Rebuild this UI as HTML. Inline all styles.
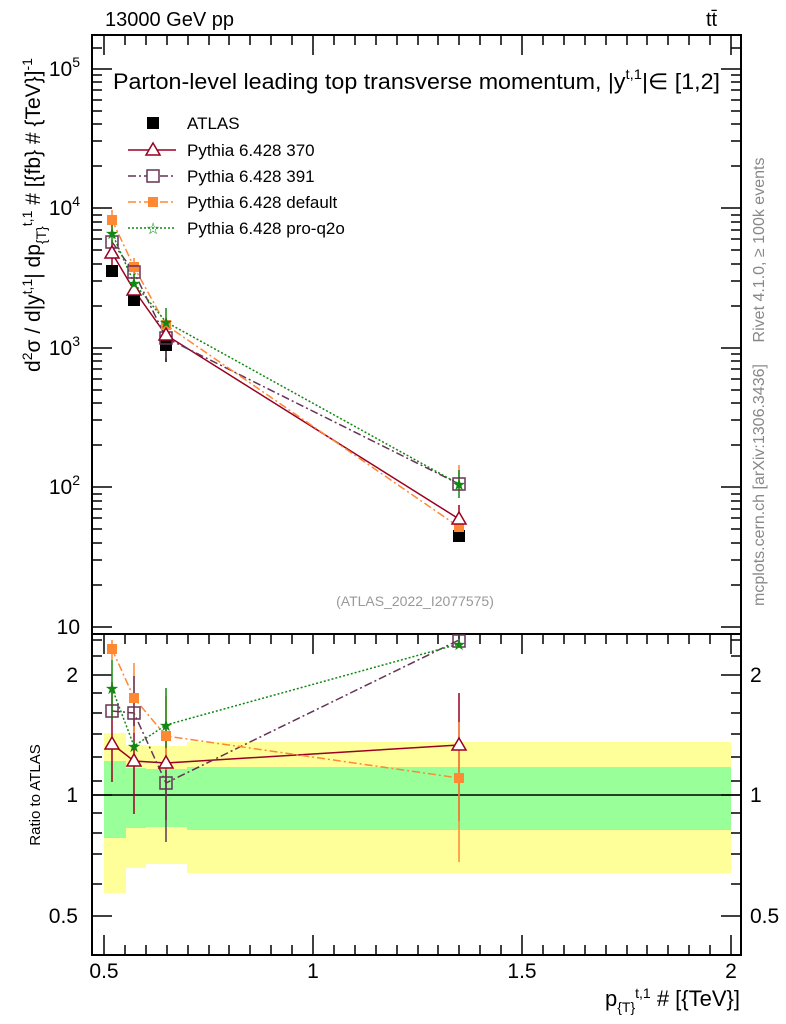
<!DOCTYPE html>
<html><head><meta charset="utf-8"><style>body{margin:0;background:#fff}svg{display:block;font-family:"Liberation Sans",sans-serif}</style></head><body>
<svg width="786" height="1024" viewBox="0 0 786 1024" xmlns="http://www.w3.org/2000/svg">
<text x="105" y="26" font-size="20">13000 GeV pp</text>
<text x="706" y="26" font-size="20">tt̄</text>
<text transform="translate(764,250) rotate(-90)" font-size="16" fill="#888" text-anchor="middle">Rivet 4.1.0, ≥ 100k events</text>
<text transform="translate(764,485) rotate(-90)" font-size="16" fill="#888" text-anchor="middle">mcplots.cern.ch [arXiv:1306.3436]</text>
<text transform="translate(40,215) rotate(-90)" font-size="21" text-anchor="middle">d<tspan font-size="14" dy="-8">2</tspan><tspan dy="8">σ / d|y</tspan><tspan font-size="14" dy="-8">t,1</tspan><tspan dy="8">| dp</tspan><tspan font-size="14" dy="6">{T}</tspan><tspan font-size="14" dy="-14">t,1</tspan><tspan dy="8"> # [{fb} # {TeV}]</tspan><tspan font-size="14" dy="-8">-1</tspan></text>
<text transform="translate(40,795) rotate(-90)" font-size="15" text-anchor="middle">Ratio to ATLAS</text>
<rect x="104" y="733" width="22" height="160" fill="#ffff99"/>
<rect x="126" y="745" width="20" height="123" fill="#ffff99"/>
<rect x="146" y="746" width="41" height="118" fill="#ffff99"/>
<rect x="187" y="742" width="544" height="131" fill="#ffff99"/>
<rect x="104" y="761" width="22" height="77" fill="#99ff99"/>
<rect x="126" y="768" width="20" height="60" fill="#99ff99"/>
<rect x="146" y="769" width="41" height="58" fill="#99ff99"/>
<rect x="187" y="767" width="544" height="63" fill="#99ff99"/>
<line x1="92" y1="795" x2="741" y2="795" stroke="#000" stroke-width="1.5"/>
<rect x="92" y="35" width="649" height="599" fill="none" stroke="#000" stroke-width="2"/>
<rect x="92" y="634" width="649" height="321" fill="none" stroke="#000" stroke-width="2"/>
<g stroke="#000" stroke-width="1.5">
<path d="M104 955v-20M313 955v-20M522 955v-20M731 955v-20M104 634v20M313 634v20M522 634v20M731 634v20M104 35v20M313 35v20M522 35v20M731 35v20
M125 955v-10M146 955v-10M167 955v-10M188 955v-10M209 955v-10M229 955v-10M250 955v-10M271 955v-10M292 955v-10M334 955v-10M355 955v-10M376 955v-10M397 955v-10M418 955v-10M438 955v-10M459 955v-10M480 955v-10M501 955v-10M543 955v-10M564 955v-10M585 955v-10M606 955v-10M627 955v-10M647 955v-10M668 955v-10M689 955v-10M710 955v-10
M125 634v10M146 634v10M167 634v10M188 634v10M209 634v10M229 634v10M250 634v10M271 634v10M292 634v10M334 634v10M355 634v10M376 634v10M397 634v10M418 634v10M438 634v10M459 634v10M480 634v10M501 634v10M543 634v10M564 634v10M585 634v10M606 634v10M627 634v10M647 634v10M668 634v10M689 634v10M710 634v10
M125 35v10M146 35v10M167 35v10M188 35v10M209 35v10M229 35v10M250 35v10M271 35v10M292 35v10M334 35v10M355 35v10M376 35v10M397 35v10M418 35v10M438 35v10M459 35v10M480 35v10M501 35v10M543 35v10M564 35v10M585 35v10M606 35v10M627 35v10M647 35v10M668 35v10M689 35v10M710 35v10"/>
<path d="M92 69h20M92 208h20M92 348h20M92 487h20M92 627h20M741 69h-20M741 208h-20M741 348h-20M741 487h-20M741 627h-20"/>
<path d="M92 585h10M92 560h10M92 543h10M92 529h10M92 518h10M92 509h10M92 501h10M92 494h10
M92 445h10M92 420h10M92 403h10M92 390h10M92 379h10M92 369h10M92 361h10M92 354h10
M92 306h10M92 281h10M92 264h10M92 250h10M92 239h10M92 230h10M92 222h10M92 215h10
M92 166h10M92 141h10M92 124h10M92 111h10M92 100h10M92 90h10M92 82h10M92 75h10
M92 48h10M741 48h-10
M741 585h-10M741 560h-10M741 543h-10M741 529h-10M741 518h-10M741 509h-10M741 501h-10M741 494h-10
M741 445h-10M741 420h-10M741 403h-10M741 390h-10M741 379h-10M741 369h-10M741 361h-10M741 354h-10
M741 306h-10M741 281h-10M741 264h-10M741 250h-10M741 239h-10M741 230h-10M741 222h-10M741 215h-10
M741 166h-10M741 141h-10M741 124h-10M741 111h-10M741 100h-10M741 90h-10M741 82h-10M741 75h-10"/>
<path d="M92 675h20M92 795h20M92 916h20M741 675h-20M741 795h-20M741 916h-20
M92 640h10M92 656h10M92 693h10M92 713h10M92 734h10M92 757h10M92 781h10M92 813h10M92 833h10M92 854h10M92 884h10
M741 640h-10M741 656h-10M741 693h-10M741 713h-10M741 734h-10M741 757h-10M741 781h-10M741 813h-10M741 833h-10M741 854h-10M741 884h-10"/>
</g>
<g font-size="21" text-anchor="middle">
<text x="104" y="978">0.5</text><text x="313" y="978">1</text><text x="522" y="978">1.5</text><text x="731" y="978">2</text>
</g>
<g font-size="21" text-anchor="end">
<text x="80" y="76">10<tspan font-size="14" dy="-9">5</tspan></text>
<text x="80" y="215">10<tspan font-size="14" dy="-9">4</tspan></text>
<text x="80" y="355">10<tspan font-size="14" dy="-9">3</tspan></text>
<text x="80" y="494">10<tspan font-size="14" dy="-9">2</tspan></text>
<text x="80" y="634">10</text>
<text x="78" y="682">2</text><text x="78" y="802">1</text><text x="78" y="923">0.5</text>
</g>
<g font-size="21"><text x="750" y="682">2</text><text x="750" y="802">1</text><text x="750" y="923">0.5</text></g>
<text x="740" y="1006" font-size="22" text-anchor="end">p<tspan font-size="14" dy="6">{T}</tspan><tspan font-size="14" dy="-14">t,1</tspan><tspan dy="8"> # [{TeV}]</tspan></text>
<text x="113" y="89" font-size="22" textLength="607" lengthAdjust="spacingAndGlyphs">Parton-level leading top transverse momentum, |y<tspan font-size="14" dy="-10">t,1</tspan><tspan dy="10">|∈ [1,2]</tspan></text>
<text x="415" y="606" font-size="14" fill="#999" text-anchor="middle">(ATLAS_2022_I2077575)</text>
<rect x="147" y="117" width="12" height="12" fill="#000"/>
<g font-size="17"><text x="187" y="129">ATLAS</text><text x="187" y="156">Pythia 6.428 370</text><text x="187" y="182">Pythia 6.428 391</text><text x="187" y="208">Pythia 6.428 default</text><text x="187" y="234">Pythia 6.428 pro-q2o</text></g>
<line x1="128" y1="150" x2="176" y2="150" stroke="#990022" stroke-width="1.5"/><path d="M153 143l7 12h-14z" fill="#fff" stroke="#990022" stroke-width="1.5"/>
<line x1="128" y1="176" x2="176" y2="176" stroke="#663355" stroke-width="1.5" stroke-dasharray="8,3,2,3"/><rect x="147" y="170" width="12" height="12" fill="#fff" stroke="#663355" stroke-width="1.5"/>
<line x1="128" y1="202" x2="176" y2="202" stroke="#ff8833" stroke-width="1.5" stroke-dasharray="8,3,2,3"/><rect x="148" y="197" width="10" height="10" fill="#ff8833"/>
<line x1="128" y1="228" x2="176" y2="228" stroke="#118811" stroke-width="1.5" stroke-dasharray="2,2"/><text x="153" y="234" font-size="16" fill="#118811" text-anchor="middle">☆</text>
<g stroke-width="1.5" fill="none">
<polyline points="112,253 134,290 166,335 459,519" stroke="#990022"/>
<polyline points="112,242 134,272 166,338 459,484" stroke="#663355" stroke-dasharray="8,3,2,3"/>
<polyline points="112,220 134,267 166,325 459,527" stroke="#ff8833" stroke-dasharray="8,3,2,3"/>
<polyline points="112,233 134,283 166,322 459,484" stroke="#118811" stroke-dasharray="2,2"/>
<path d="M112 240v25M134 278v22M166 324v25M459 505v30" stroke="#990022"/>
<path d="M112 210v20M134 258v20M166 318v20M459 465v25" stroke="#ff8833"/>
<path d="M112 224v20M134 274v20M166 308v25M459 470v28" stroke="#118811"/>
<path d="M134 290v16M166 338v24M459 530v12" stroke="#000"/>
<path d="M166 330v28" stroke="#663355"/>
</g>
<g fill="#000"><rect x="106" y="265" width="12" height="12"/><rect x="128" y="294" width="12" height="12"/><rect x="160" y="339" width="12" height="12"/><rect x="453" y="530" width="12" height="12"/></g>
<g fill="#ff8833"><rect x="107" y="215" width="10" height="10"/><rect x="129" y="262" width="10" height="10"/><rect x="161" y="320" width="10" height="10"/><rect x="454" y="522" width="10" height="10"/></g>
<g fill="none" stroke="#663355" stroke-width="1.5"><rect x="106" y="236" width="12" height="12"/><rect x="128" y="266" width="12" height="12"/><rect x="160" y="332" width="12" height="12"/><rect x="453" y="478" width="12" height="12"/></g>
<g fill="#fff" stroke="#990022" stroke-width="1.5"><path d="M112 246l7 12h-14z"/><path d="M134 283l7 12h-14z"/><path d="M166 328l7 12h-14z"/><path d="M459 512l7 12h-14z"/></g>
<g fill="#118811" font-size="16" text-anchor="middle"><text x="112" y="239">★</text><text x="134" y="289">★</text><text x="166" y="328">★</text><text x="459" y="490">★</text></g>
<g stroke-width="1.5" fill="none">
<polyline points="112,744 134,761 166,763 459,745" stroke="#990022"/>
<polyline points="112,711 134,713 166,783 459,640" stroke="#663355" stroke-dasharray="8,3,2,3"/>
<polyline points="112,649 134,698 166,736 459,778" stroke="#ff8833" stroke-dasharray="8,3,2,3"/>
<polyline points="112,688 134,746 166,725 459,644" stroke="#118811" stroke-dasharray="2,2"/>
<path d="M112 682v100M134 718v96M166 724v96M459 693v128" stroke="#990022"/>
<path d="M112 640v20M134 663v70M166 696v80M459 722v140" stroke="#ff8833"/>
<path d="M112 660v60M166 688v60" stroke="#118811"/>
<path d="M166 770v72M134 676v50" stroke="#663355"/>
</g>
<g fill="#ff8833"><rect x="107" y="644" width="10" height="10"/><rect x="129" y="693" width="10" height="10"/><rect x="161" y="731" width="10" height="10"/><rect x="454" y="773" width="10" height="10"/></g>
<g fill="none" stroke="#663355" stroke-width="1.5"><rect x="106" y="705" width="12" height="12"/><rect x="128" y="707" width="12" height="12"/><rect x="160" y="777" width="12" height="12"/><rect x="453" y="635" width="12" height="12"/></g>
<g fill="#fff" stroke="#990022" stroke-width="1.5"><path d="M112 737l7 12h-14z"/><path d="M134 754l7 12h-14z"/><path d="M166 756l7 12h-14z"/><path d="M459 738l7 12h-14z"/></g>
<g fill="#118811" font-size="16" text-anchor="middle"><text x="112" y="694">★</text><text x="134" y="752">★</text><text x="166" y="731">★</text><text x="459" y="650">★</text></g>
</svg>
</body></html>
